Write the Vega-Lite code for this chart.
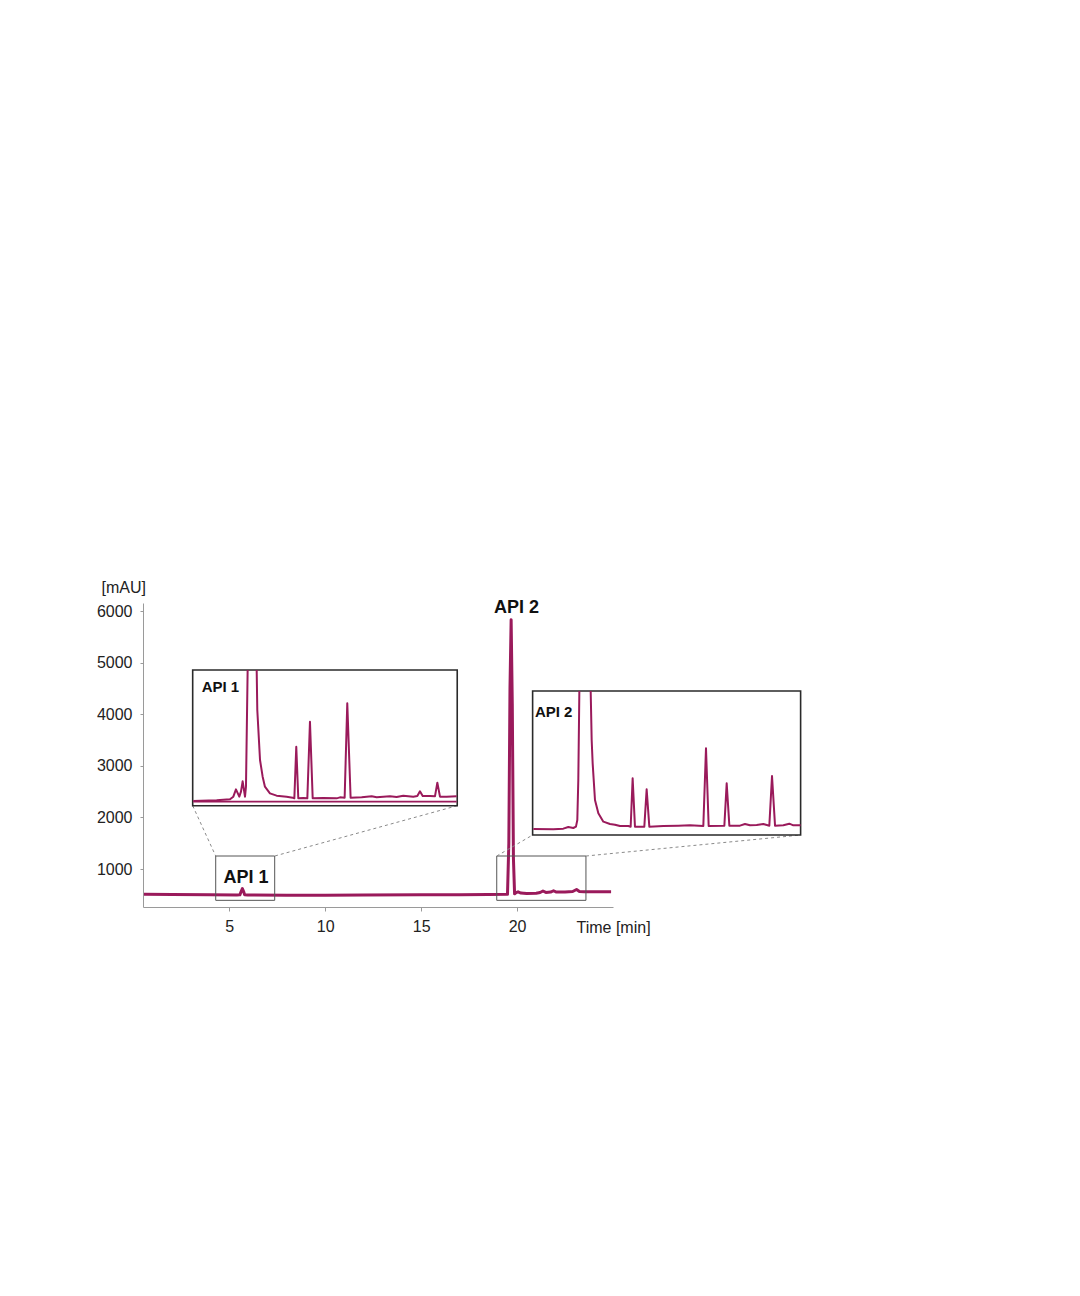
{
  "$schema": "https://vega.github.io/schema/vega-lite/v6.json",
  "width": 470,
  "height": 304,
  "autosize": "none",
  "padding": {"left": 143, "top": 603, "right": 467, "bottom": 389},
  "background": "white",
  "config": {
    "view": {"stroke": null},
    "font": "Liberation Sans Narrow, Liberation Sans, sans-serif"
  },
  "datasets": {
    "main": [
      {"t": 0.55, "v": 510}, {"t": 2, "v": 505}, {"t": 4, "v": 500}, {"t": 5.4, "v": 498},
      {"t": 5.55, "v": 500}, {"t": 5.62, "v": 570}, {"t": 5.68, "v": 620}, {"t": 5.74, "v": 570},
      {"t": 5.8, "v": 500}, {"t": 5.95, "v": 497}, {"t": 8, "v": 495}, {"t": 10, "v": 495},
      {"t": 12, "v": 497}, {"t": 15, "v": 500}, {"t": 17, "v": 502}, {"t": 18.5, "v": 505},
      {"t": 19.5, "v": 510}, {"t": 19.57, "v": 1500}, {"t": 19.63, "v": 4500}, {"t": 19.69, "v": 5830},
      {"t": 19.75, "v": 4200}, {"t": 19.81, "v": 1200}, {"t": 19.87, "v": 520}, {"t": 19.95, "v": 545},
      {"t": 20.05, "v": 560}, {"t": 20.2, "v": 535}, {"t": 20.5, "v": 525}, {"t": 21.0, "v": 530},
      {"t": 21.2, "v": 545}, {"t": 21.35, "v": 575}, {"t": 21.5, "v": 548}, {"t": 21.75, "v": 555},
      {"t": 21.9, "v": 580}, {"t": 22.05, "v": 555}, {"t": 22.5, "v": 555}, {"t": 22.9, "v": 565},
      {"t": 23.1, "v": 605}, {"t": 23.25, "v": 565}, {"t": 23.5, "v": 560}, {"t": 24, "v": 560},
      {"t": 24.9, "v": 560}
    ],
    "inset1": [
      {"t": 4.3, "v": 1.0}, {"t": 4.566, "v": 2.0}, {"t": 4.718, "v": 3.5}, {"t": 4.756, "v": 7.5},
      {"t": 4.786, "v": 18.5}, {"t": 4.824, "v": 7.5}, {"t": 4.843, "v": 15}, {"t": 4.862, "v": 30.5},
      {"t": 4.889, "v": 7.5}, {"t": 4.9, "v": 22.5}, {"t": 4.919, "v": 197.5}, {"t": 4.97, "v": null},
      {"t": 5.022, "v": 197.5}, {"t": 5.029, "v": 137.5}, {"t": 5.06, "v": 62.5}, {"t": 5.09, "v": 37.5},
      {"t": 5.116, "v": 22.5}, {"t": 5.173, "v": 12.5}, {"t": 5.249, "v": 9}, {"t": 5.363, "v": 7.5},
      {"t": 5.432, "v": 6}, {"t": 5.451, "v": 5}, {"t": 5.473, "v": 82.5}, {"t": 5.496, "v": 5},
      {"t": 5.553, "v": 5.5}, {"t": 5.599, "v": 5}, {"t": 5.629, "v": 120}, {"t": 5.66, "v": 5},
      {"t": 5.781, "v": 5.5}, {"t": 5.933, "v": 5}, {"t": 5.971, "v": 6.5}, {"t": 6.024, "v": 6},
      {"t": 6.054, "v": 147.5}, {"t": 6.092, "v": 6}, {"t": 6.218, "v": 6.5}, {"t": 6.332, "v": 8},
      {"t": 6.389, "v": 6.5}, {"t": 6.54, "v": 8}, {"t": 6.616, "v": 7}, {"t": 6.692, "v": 9},
      {"t": 6.806, "v": 7.5}, {"t": 6.852, "v": 8.5}, {"t": 6.882, "v": 15.5}, {"t": 6.913, "v": 8.5},
      {"t": 6.996, "v": 8.5}, {"t": 7.053, "v": 8}, {"t": 7.08, "v": 28.5}, {"t": 7.11, "v": 7.5},
      {"t": 7.186, "v": 7.5}, {"t": 7.3, "v": 8}
    ],
    "inset2": [
      {"t": 19.0, "v": 1.5}, {"t": 19.344, "v": 1}, {"t": 19.516, "v": 2}, {"t": 19.602, "v": 4.5},
      {"t": 19.688, "v": 3}, {"t": 19.734, "v": 5}, {"t": 19.757, "v": 15}, {"t": 19.774, "v": 75},
      {"t": 19.792, "v": 208.5}, {"t": 19.889, "v": null}, {"t": 19.987, "v": 208.5}, {"t": 20.004, "v": 135},
      {"t": 20.021, "v": 100}, {"t": 20.061, "v": 45}, {"t": 20.119, "v": 25}, {"t": 20.205, "v": 12.5},
      {"t": 20.319, "v": 9}, {"t": 20.405, "v": 8}, {"t": 20.491, "v": 6}, {"t": 20.635, "v": 6},
      {"t": 20.675, "v": 5}, {"t": 20.709, "v": 77.5}, {"t": 20.749, "v": 5}, {"t": 20.91, "v": 5},
      {"t": 20.95, "v": 61}, {"t": 20.996, "v": 5}, {"t": 21.237, "v": 6}, {"t": 21.495, "v": 6.5},
      {"t": 21.696, "v": 7}, {"t": 21.925, "v": 6}, {"t": 21.971, "v": 122.5}, {"t": 22.017, "v": 6},
      {"t": 22.287, "v": 6.5}, {"t": 22.327, "v": 70}, {"t": 22.373, "v": 6.5}, {"t": 22.556, "v": 6.5},
      {"t": 22.642, "v": 9}, {"t": 22.728, "v": 7}, {"t": 22.843, "v": 7.5}, {"t": 22.958, "v": 9},
      {"t": 23.061, "v": 6.5}, {"t": 23.107, "v": 81}, {"t": 23.159, "v": 6.5}, {"t": 23.302, "v": 7},
      {"t": 23.405, "v": 9.5}, {"t": 23.474, "v": 7}, {"t": 23.6, "v": 7}
    ],
    "smallBoxes": [
      {"x": 4.29, "x2": 7.365, "y": 394, "y2": 1253},
      {"x": 18.94, "x2": 23.59, "y": 394, "y2": 1253}
    ],
    "insetBoxes": [
      {"x": 3.09, "x2": 16.88, "y": 2228, "y2": 4858},
      {"x": 20.81, "x2": 34.78, "y": 1660, "y2": 4451}
    ],
    "connectors": [
      {"x": 3.09, "y": 2228, "x2": 4.29, "y2": 1253},
      {"x": 16.88, "y": 2228, "x2": 7.365, "y2": 1253},
      {"x": 18.94, "y": 1253, "x2": 20.81, "y2": 1660},
      {"x": 23.59, "y": 1253, "x2": 34.78, "y2": 1660}
    ],
    "bigLabels": [
      {"t": 19.97, "v": 5968, "label": "API 2"},
      {"t": 5.87, "v": 724, "label": "API 1"}
    ],
    "insetLabels": [
      {"t": 3.56, "v": 4437, "label": "API 1"},
      {"t": 20.93, "v": 3941, "label": "API 2"}
    ]
  },
  "layer": [
    {
      "layer": [
        {
          "data": {"name": "main"},
          "mark": {"type": "line", "color": "#9a1a5b", "strokeWidth": 3, "strokeJoin": "round"},
          "encoding": {
            "x": {
              "field": "t", "type": "quantitative",
              "scale": {"domain": [0.5, 25], "nice": false, "zero": false},
              "axis": {
                "values": [5, 10, 15, 20], "grid": false, "domainColor": "#9a9a9a", "tickColor": "#9a9a9a",
                "tickSize": 4, "labelPadding": 20, "labelBaseline": "alphabetic", "labelFontSize": 16,
                "labelColor": "#222", "labelFont": "Liberation Sans Narrow, Liberation Sans, sans-serif",
                "title": "Time [min]", "titleFontWeight": "normal", "titleFontSize": 16, "titleColor": "#222",
                "titleFont": "Liberation Sans Narrow, Liberation Sans, sans-serif",
                "titleAlign": "left", "titleAnchor": null, "titleBaseline": "alphabetic", "titleX": 433, "titleY": 25
              }
            },
            "y": {
              "field": "v", "type": "quantitative",
              "scale": {"domain": [265, 6156], "nice": false, "zero": false},
              "axis": {
                "values": [1000, 2000, 3000, 4000, 5000, 6000], "format": "d", "grid": false, "domainColor": "#9a9a9a", "tickColor": "#9a9a9a",
                "tickSize": 3, "labelPadding": 8, "labelFontSize": 16, "labelColor": "#222",
                "labelFont": "Liberation Sans Narrow, Liberation Sans, sans-serif",
                "title": "[mAU]", "titleAngle": 0, "titleFontWeight": "normal", "titleFontSize": 16, "titleColor": "#222",
                "titleFont": "Liberation Sans Narrow, Liberation Sans, sans-serif",
                "titleAlign": "left", "titleAnchor": null, "titleBaseline": "alphabetic", "titleX": -42, "titleY": -11
              }
            }
          }
        },
        {
          "data": {"name": "smallBoxes"},
          "mark": {"type": "rect", "fill": "transparent", "stroke": "#555", "strokeWidth": 1},
          "encoding": {
            "x": {"field": "x", "type": "quantitative"},
            "x2": {"field": "x2"},
            "y": {"field": "y", "type": "quantitative"},
            "y2": {"field": "y2"}
          }
        },
        {
          "data": {"name": "connectors"},
          "mark": {"type": "rule", "color": "#8a8a8a", "strokeWidth": 1, "strokeDash": [3, 3]},
          "encoding": {
            "x": {"field": "x", "type": "quantitative"},
            "x2": {"field": "x2"},
            "y": {"field": "y", "type": "quantitative"},
            "y2": {"field": "y2"}
          }
        },
        {
          "data": {"name": "insetBoxes"},
          "mark": {"type": "rect", "fill": "white", "stroke": "#2a2a2a", "strokeWidth": 1.6},
          "encoding": {
            "x": {"field": "x", "type": "quantitative"},
            "x2": {"field": "x2"},
            "y": {"field": "y", "type": "quantitative"},
            "y2": {"field": "y2"}
          }
        },
        {
          "data": {"name": "bigLabels"},
          "mark": {"type": "text", "fontSize": 18, "fontWeight": "bold", "align": "center", "baseline": "alphabetic", "color": "#111", "font": "Liberation Sans Narrow, Liberation Sans, sans-serif"},
          "encoding": {
            "x": {"field": "t", "type": "quantitative"},
            "y": {"field": "v", "type": "quantitative"},
            "text": {"field": "label"}
          }
        },
        {
          "data": {"name": "insetLabels"},
          "mark": {"type": "text", "fontSize": 15, "fontWeight": "bold", "align": "left", "baseline": "alphabetic", "color": "#111", "font": "Liberation Sans, sans-serif"},
          "encoding": {
            "x": {"field": "t", "type": "quantitative"},
            "y": {"field": "v", "type": "quantitative"},
            "text": {"field": "label"}
          }
        }
      ]
    },
    {
      "data": {"name": "inset1"},
      "layer": [
        {
          "mark": {"type": "rule", "color": "#9a1a5b", "strokeWidth": 1.6},
          "encoding": {
            "x": {"aggregate": "min", "field": "t", "type": "quantitative"},
            "x2": {"aggregate": "max", "field": "t"},
            "y": {"datum": 0, "type": "quantitative"}
          }
        },
        {
          "mark": {"type": "line", "color": "#9a1a5b", "strokeWidth": 2, "strokeJoin": "round"},
          "encoding": {
            "x": {"field": "t", "type": "quantitative"},
            "y": {"field": "v", "type": "quantitative"}
          }
        }
      ],
      "encoding": {
        "x": {"type": "quantitative", "scale": {"domain": [3.727, 9.081], "nice": false, "zero": false}, "axis": null},
        "y": {"type": "quantitative", "scale": {"domain": [-158, 298], "nice": false, "zero": false}, "axis": null}
      }
    },
    {
      "data": {"name": "inset2"},
      "mark": {"type": "line", "color": "#9a1a5b", "strokeWidth": 2, "strokeJoin": "round"},
      "encoding": {
        "x": {"field": "t", "type": "quantitative", "scale": {"domain": [12.284, 20.371], "nice": false, "zero": false}, "axis": null},
        "y": {"field": "v", "type": "quantitative", "scale": {"domain": [-115.5, 340.5], "nice": false, "zero": false}, "axis": null}
      }
    }
  ],
  "resolve": {"scale": {"x": "independent", "y": "independent"}}
}
